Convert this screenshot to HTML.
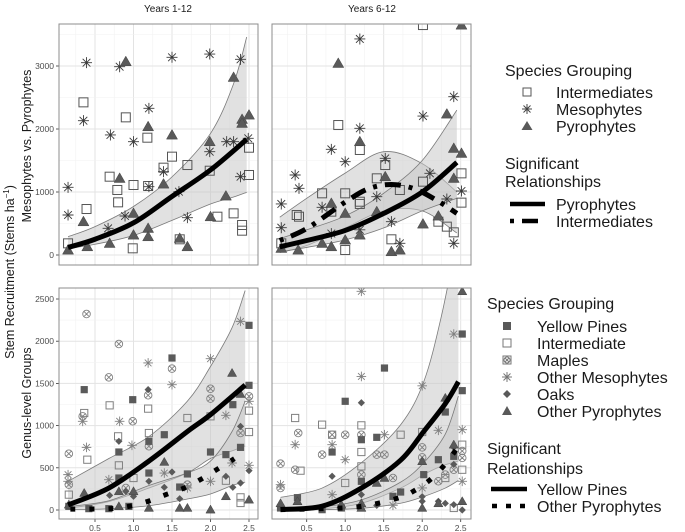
<!DOCTYPE html>
<html><head><meta charset="utf-8">
<style>
body{margin:0;background:#fff;font-family:"Liberation Sans",Arial,sans-serif;}
svg{display:block}
</style></head>
<body>
<svg id="chart" width="685" height="532" viewBox="0 0 685 532" xmlns="http://www.w3.org/2000/svg">
<defs>
<clipPath id="cTL"><rect x="59" y="24" width="199" height="241"/></clipPath>
<clipPath id="cTR"><rect x="272" y="24" width="199" height="241"/></clipPath>
<clipPath id="cBL"><rect x="59" y="288" width="199" height="231"/></clipPath>
<clipPath id="cBR"><rect x="272" y="288" width="199" height="231"/></clipPath>
</defs>
<g id="root"></g>
<text x="168" y="12" font-size="10" text-anchor="middle" fill="#1a1a1a">Years 1-12</text>
<text x="372" y="12" font-size="10" text-anchor="middle" fill="#1a1a1a">Years 6-12</text>
<text transform="translate(14,272) rotate(-90)" font-size="12.5" text-anchor="middle" fill="#1a1a1a">Stem Recruitment (Stems  ha<tspan font-size="8" dy="-5">−1</tspan><tspan dy="5">)</tspan></text>
<text transform="translate(31,146) rotate(-90)" font-size="12.5" text-anchor="middle" fill="#1a1a1a">Mesophytes vs. Pyrophytes</text>
<text transform="translate(31,403) rotate(-90)" font-size="12.5" text-anchor="middle" fill="#1a1a1a">Genus-level Groups</text>
<g id="legend-top" font-size="16" fill="#1a1a1a">
<text x="505" y="76">Species Grouping</text>
<rect x="523" y="88" width="8" height="8" fill="none" stroke="#555"/>
<text x="556" y="98">Intermediates</text>
<g stroke="#444" stroke-width="1"><line x1="522" y1="109" x2="532" y2="109"/><line x1="527" y1="104" x2="527" y2="114"/><line x1="523.5" y1="105.5" x2="530.5" y2="112.5"/><line x1="523.5" y1="112.5" x2="530.5" y2="105.5"/></g>
<text x="556" y="115">Mesophytes</text>
<polygon points="527,121 532.5,130 521.5,130" fill="#595959"/>
<text x="556" y="132">Pyrophytes</text>
<text x="505" y="169">Significant</text>
<text x="505" y="187">Relationships</text>
<line x1="510" y1="204" x2="545" y2="204" stroke="#000" stroke-width="4.5"/>
<text x="556" y="210">Pyrophytes</text>
<line x1="510" y1="221" x2="545" y2="221" stroke="#000" stroke-width="4.5" stroke-dasharray="4 8 16 8"/>
<text x="556" y="227">Intermediates</text>
</g>
<g id="legend-bottom" font-size="16" fill="#1a1a1a">
<text x="487" y="309">Species Grouping</text>
<rect x="503" y="322" width="8" height="8" fill="#595959"/>
<text x="537" y="332">Yellow Pines</text>
<rect x="503" y="339" width="8" height="8" fill="none" stroke="#777"/>
<text x="537" y="349">Intermediate</text>
<g stroke="#777" fill="none"><rect x="503" y="356" width="8" height="8"/><circle cx="507" cy="360" r="3"/><line x1="505" y1="358" x2="509" y2="362"/><line x1="505" y1="362" x2="509" y2="358"/></g>
<text x="537" y="366">Maples</text>
<g stroke="#777"><line x1="502" y1="377" x2="512" y2="377"/><line x1="507" y1="372" x2="507" y2="382"/><line x1="503.5" y1="373.5" x2="510.5" y2="380.5"/><line x1="503.5" y1="380.5" x2="510.5" y2="373.5"/></g>
<text x="537" y="383">Other Mesophytes</text>
<polygon points="507,390 511,394 507,398 503,394" fill="#595959"/>
<text x="537" y="400">Oaks</text>
<polygon points="507,406 512,415 502,415" fill="#595959"/>
<text x="537" y="417">Other Pyrophytes</text>
<text x="487" y="454">Significant</text>
<text x="487" y="474">Relationships</text>
<line x1="491" y1="489" x2="527" y2="489" stroke="#000" stroke-width="4.5"/>
<text x="537" y="495">Yellow Pines</text>
<line x1="492" y1="506" x2="527" y2="506" stroke="#000" stroke-width="4.5" stroke-dasharray="5 9"/>
<text x="537" y="512">Other Pyrophytes</text>
</g>
</svg>
<script>
// ---------- DATA ----------
const tlMesoX=[0.15,0.15,0.39,0.35,0.82,0.70,1.0,1.2,1.2,0.89,0.67,1.39,1.5,1.59,1.70,1.99,1.99,2.21,2.30,2.39,2.39,2.49];
const tlMesoY=[1074,635,3053,2132,2989,1905,1799,2328,1085,619,423,1323,3138,1005,593,3190,1640,1799,1799,3106,1243,1852];
const tlInterX=[0.15,0.35,0.39,0.69,0.79,0.80,0.90,1.0,0.99,1.18,1.19,1.39,1.50,1.60,1.70,1.99,2.09,2.30,2.41,2.41,2.50,2.50];
const tlInterY=[185,2423,730,1243,1032,836,2185,1111,106,1862,1095,1386,1561,249,1428,1338,608,661,476,386,1270,1703];
const tlPyroX=[0.15,0.35,0.40,0.69,0.82,0.90,1.0,1.0,1.19,1.19,1.19,1.39,1.50,1.60,1.70,1.99,2.0,2.20,2.30,2.41,2.41,2.50];
const tlPyroY=[79,529,132,185,1217,3069,661,317,2037,423,291,1127,1905,265,132,1799,608,937,2820,2153,2090,2222];
const tlFitX=[0.15,0.5,1.0,1.5,2.0,2.47];
const tlFitY=[120,250,510,930,1350,1836];
const tlBandX=[0.15,0.5,1.0,1.5,2.0,2.3,2.47];
const tlBandHi=[290,450,770,1240,1930,2720,3460];
const tlBandLo=[100,170,310,550,810,920,995];
const trMesoX=[0.17,0.17,0.35,0.40,0.82,1.0,1.19,1.19,0.70,1.41,1.52,1.60,1.71,2.01,2.10,2.32,2.41,2.41,2.51,0.82,1.19];
const trMesoY=[810,433,1270,1058,1677,1481,3429,2011,757,926,1534,529,185,2206,1296,889,2513,185,1016,340,400];
const trInterX=[0.17,0.37,0.40,0.70,0.82,0.91,1.0,1.0,1.19,1.19,1.19,1.41,1.52,1.60,1.71,2.01,2.01,2.21,2.32,2.41,2.51,2.51];
const trInterY=[185,635,608,979,688,2063,979,79,1667,846,810,1217,1428,249,1032,3650,1164,529,450,360,1296,831];
const trPyroX=[0.17,0.39,0.70,0.82,0.82,0.91,1.0,1.0,1.19,1.19,1.41,1.52,1.60,1.71,2.01,2.21,2.32,2.41,2.41,2.51,2.51];
const trPyroY=[106,79,185,820,132,3042,661,238,1799,317,688,1243,53,79,492,619,2238,1693,1217,3650,1614];
const trFitX=[0.15,0.5,1.0,1.5,2.0,2.45];
const trFitY=[130,230,390,660,1000,1470];
const trBandX=[0.15,0.5,1.0,1.5,2.0,2.45];
const trBandHi=[260,400,620,980,1500,2300];
const trBandLo=[50,120,240,430,700,900];
const trDashX=[0.15,0.5,1.0,1.3,1.6,1.9,2.2,2.45];
const trDashY=[230,420,840,1050,1120,1050,860,660];
const trDashBandX=[0.15,0.5,1.0,1.5,2.0,2.45];
const trDashBandHi=[600,900,1300,1640,1450,1000];
const trDashBandLo=[40,150,430,700,700,350];
const blPineX=[0.36,0.99,1.50,0.81,1.20,1.40,1.20,1.70,1.60,2.0,2.20,2.29,2.39,2.50,2.50,0.16,0.42,0.68,0.94,0.81];
const blPineY=[1426,1307,1801,687,814,892,438,427,272,687,656,1248,742,1477,2188,43,16,16,43,379];
const blInterX=[0.36,0.69,1.19,0.80,0.40,0.81,1.70,2.0,2.50,2.50,1.20,2.2,2.39,2.39,0.16,1.0];
const blInterY=[1149,1240,1201,873,596,529,1090,1110,1177,924,912,347,150,83,182,379];
const blMapleX=[0.39,0.81,0.68,1.19,1.50,0.34,0.99,0.16,2.0,2.0,2.5,2.39,1.2,0.90,0.16,1.70];
const blMapleY=[2322,1967,1572,1359,1675,1110,1051,667,1437,1319,1347,912,755,261,300,300];
const blMesoX=[1.19,1.50,2.0,2.39,0.34,0.82,0.39,0.98,2.2,2.5,2.5,0.15,0.15,0.68,1.40,2.0,2.28,1.7];
const blMesoY=[1742,1485,1793,2235,1051,1051,742,766,1122,1288,529,419,340,359,438,340,557,261];
const blOakX=[1.19,0.81,2.39,2.5,2.39,2.29,1.4,1.5,0.69,1.6,2.2,1.2,0.90,1.0];
const blOakY=[1426,814,991,466,320,269,269,450,174,134,399,340,221,162];
const blPyroX=[0.36,0.81,1.0,1.4,2.28,2.2,2.0,2.5,1.2,1.7,1.6,0.81,0.16,2.39];
const blPyroY=[201,221,221,569,1623,162,4,122,24,24,24,43,63,1374];
const blFitX=[0.15,0.68,1.2,1.7,2.0,2.45];
const blFitY=[60,260,580,930,1130,1480];
const blBandX=[0.15,0.68,1.2,1.7,2.0,2.28,2.45];
const blBandHi=[340,610,870,1290,1700,2160,2600];
const blBandLo=[20,100,260,440,610,700,760];
const blDotX=[0.18,0.69,0.94,1.19,1.42,1.66,1.89,2.1,2.31];
const blDotY=[10,16,43,103,182,261,371,490,608];
const blDotBandX=[0.15,0.68,1.2,1.7,2.0,2.28,2.45];
const blDotBandHi=[40,110,290,440,580,930,1290];
const blDotBandLo=[5,15,50,130,190,290,330];
const brPineX=[1.51,1.0,1.21,0.83,1.41,2.30,2.52,2.52,2.21,2.41,2.02,1.72,1.62,1.21,0.38,0.70,0.16,0.95];
const brPineY=[1682,1288,833,687,861,1161,1414,2085,596,636,419,213,162,340,146,4,24,24];
const brInterX=[0.35,0.70,1.21,1.21,1.21,1.72,2.0,2.52,2.52,0.42,1.0,2.30,2.41,0.83];
const brInterY=[1090,1011,1003,687,517,892,924,774,477,466,320,379,24,892];
const brMapleX=[0.39,0.83,1.0,1.21,0.16,0.35,0.70,1.41,1.51,2.0,2.0,2.52,2.52,2.41,2.30,1.62,1.21,0.16,2.21];
const brMapleY=[912,892,892,892,549,477,656,656,656,742,624,699,618,477,419,379,419,261,340];
const brMesoX=[1.21,1.21,2.0,2.41,0.35,0.83,1.0,1.51,2.21,2.52,2.52,0.16,2.0,0.83,1.62];
const brMesoY=[2591,1582,1472,2085,774,774,596,892,944,952,340,300,261,182,55];
const brOakX=[1.21,0.83,2.41,2.41,1.21,1.41,2.21,2.30,2.41,2.52,2.0,2.0];
const brOakY=[1271,400,742,541,182,55,103,79,63,0,103,158];
const brPyroX=[2.52,2.30,2.41,2.0,1.41,1.51,1.21,1.21,2.0,2.21,2.52,0.38,0.16,0.95];
const brPyroY=[2591,1328,774,577,320,379,79,24,24,79,103,103,79,63];
const brFitX=[0.16,0.7,1.21,1.72,2.02,2.3,2.47];
const brFitY=[5,45,260,590,930,1260,1520];
const brBandX=[0.16,0.7,1.21,1.72,2.02,2.25,2.47];
const brBandHi=[150,260,560,1010,1520,2300,3300];
const brBandLo=[0,15,80,260,420,520,580];
const brDotX=[0.16,0.7,1.21,1.69,1.92,2.13,2.3,2.45];
const brDotY=[4,16,43,142,241,379,545,727];
const brDotBandX=[0.16,0.7,1.21,1.72,2.02,2.3,2.47];
const brDotBandHi=[20,40,120,330,560,900,1350];
const brDotBandLo=[0,5,20,80,160,260,350];
const xTicks=[0.5,1.0,1.5,2.0,2.5];
const xTickLabels=["0.5","1.0","1.5","2.0","2.5"];
const topYTicks=[0,1000,2000,3000];
const botYTicks=[0,500,1000,1500,2000,2500];

// ---------- RENDER ----------
const NS="http://www.w3.org/2000/svg";
const root=document.getElementById('root');
function mk(tag,attrs,parent){const e=document.createElementNS(NS,tag);for(const k in attrs)e.setAttribute(k,attrs[k]);(parent||root).appendChild(e);return e;}
function panel(id,x0,y0,w,h,xOff,yZero,yScale,yTicks,minorStep,showY,showX){
  const P={id,x0,y0,w,h,sx:v=>xOff+v*77,sy:v=>yZero-v*yScale};
  const g=mk('g',{});
  
  
  const bg=mk('rect',{x:x0,y:y0,width:w,height:h,fill:'#fff'},g);
  
  
  const grid=mk('g',{},g);
  
  
  for(let v=0.25;v<2.7;v+=0.5){const X=P.sx(v);if(X>x0&&X<x0+w)mk('line',{x1:X,x2:X,y1:y0,y2:y0+h,stroke:'#f2f2f2','stroke-width':0.6},grid);}
  xTicks.forEach(v=>{const X=P.sx(v);mk('line',{x1:X,x2:X,y1:y0,y2:y0+h,stroke:'#e3e3e3','stroke-width':1},grid);});
  for(let i=0;i<yTicks.length;i++){const v=yTicks[i]+minorStep;const Y=P.sy(v);if(Y>y0&&Y<y0+h)mk('line',{x1:x0,x2:x0+w,y1:Y,y2:Y,stroke:'#f2f2f2','stroke-width':0.6},grid);}
  yTicks.forEach(v=>{const Y=P.sy(v);mk('line',{x1:x0,x2:x0+w,y1:Y,y2:Y,stroke:'#e3e3e3','stroke-width':1},grid);});
  P.g=mk('g',{'clip-path':'url(#c'+id+')'},g);
  P.frame=g;
  if(showY){yTicks.forEach(v=>{const Y=P.sy(v);mk('line',{x1:x0-3,x2:x0,y1:Y,y2:Y,stroke:'#333','stroke-width':0.8},g);
    const t=mk('text',{x:x0-5,y:Y+3,'font-size':8.5,'text-anchor':'end',fill:'#4d4d4d'},g);t.textContent=v;
    
    });}
  if(showX){xTicks.forEach((v,i)=>{const X=P.sx(v);mk('line',{x1:X,x2:X,y1:y0+h,y2:y0+h+3,stroke:'#333','stroke-width':0.8},g);
    const t=mk('text',{x:X,y:y0+h+12,'font-size':8.5,'text-anchor':'middle',fill:'#4d4d4d'},g);t.textContent=xTickLabels[i];
    
    });}
  return P;
}
function finish(P){const b=mk('rect',{x:P.x0,y:P.y0,width:P.w,height:P.h,fill:'none',stroke:'#8c8c8c','stroke-width':1},P.frame);
  
  }
function pts(P,xs,ys){return xs.map((x,i)=>[P.sx(x),P.sy(ys[i])]);}
function smooth(p,move){let d=(move?'M':'L')+p[0][0]+','+p[0][1];
  for(let i=0;i<p.length-1;i++){const a=p[i-1]||p[i],b=p[i],c=p[i+1],e=p[i+2]||c;
    d+=' C'+(b[0]+(c[0]-a[0])/6)+','+(b[1]+(c[1]-a[1])/6)+' '+(c[0]-(e[0]-b[0])/6)+','+(c[1]-(e[1]-b[1])/6)+' '+c[0]+','+c[1];}
  return d;}
function band(P,xs,hi,lo,name){const up=pts(P,xs,hi),dn=pts(P,xs,lo).reverse();
  const a=mk('path',{d:smooth(up,true)+' '+smooth(dn,false)+' Z',fill:'#c8c8c8','fill-opacity':0.55,stroke:'none'},P.g);
  
  
  const l1=mk('path',{d:smooth(up,true),fill:'none',stroke:'#7a7a7a','stroke-width':0.8},P.g);
  
  
  const l2=mk('path',{d:smooth(pts(P,xs,lo),true),fill:'none',stroke:'#7a7a7a','stroke-width':0.8},P.g);
  
  }
function fit(P,xs,ys,dash,name){const l=mk('path',{d:smooth(pts(P,xs,ys),true),fill:'none',stroke:'#000','stroke-width':5,'stroke-dasharray':dash||'none'},P.g);
  
  }
function marker(P,kind,x,y,big,name){const X=P.sx(x),Y=P.sy(y);const s=big?4.5:3.6;let e;
  if(kind==='sq'){e=mk('rect',{x:X-s,y:Y-s,width:2*s,height:2*s,fill:'none',stroke:big?'#555':'#808080','stroke-width':1},P.g);}
  else if(kind==='sqf'){e=mk('rect',{x:X-s,y:Y-s,width:2*s,height:2*s,fill:'#5a5a5a'},P.g);}
  else if(kind==='tri'){const r=big?5.5:4.6;e=mk('polygon',{points:X+','+(Y-r)+' '+(X+r)+','+(Y+r*0.75)+' '+(X-r)+','+(Y+r*0.75),fill:'#5a5a5a',stroke:'#444','stroke-width':0.5},P.g);}
  else if(kind==='dia'){const r=3.6;e=mk('polygon',{points:X+','+(Y-r)+' '+(X+r)+','+Y+' '+X+','+(Y+r)+' '+(X-r)+','+Y,fill:'#5a5a5a'},P.g);}
  else if(kind==='star'){const r=big?5.5:4.8,q=r*0.7;e=mk('path',{d:`M${X-r},${Y}L${X+r},${Y}M${X},${Y-r}L${X},${Y+r}M${X-q},${Y-q}L${X+q},${Y+q}M${X-q},${Y+q}L${X+q},${Y-q}`,stroke:big?'#3a3a3a':'#808080','stroke-width':0.9,fill:'none'},P.g);}
  else if(kind==='cx'){const r=3.8,q=r*0.7;e=mk('path',{d:`M${X-r},${Y}a${r},${r} 0 1,0 ${2*r},0a${r},${r} 0 1,0 ${-2*r},0M${X-q},${Y-q}L${X+q},${Y+q}M${X-q},${Y+q}L${X+q},${Y-q}`,stroke:'#808080','stroke-width':0.9,fill:'none'},P.g);}
  
  }
function series(P,kind,xs,ys,big,name){xs.forEach((x,i)=>marker(P,kind,x,ys[i],big,name));}

const TL=panel('TL',59,24,199,241,56.5,255,0.063,topYTicks,500,true,false);
band(TL,tlBandX,tlBandHi,tlBandLo,'ci-band-pyrophytes');
series(TL,'sq',tlInterX,tlInterY,true,'point-intermediates');
series(TL,'star',tlMesoX,tlMesoY,true,'point-mesophytes');
series(TL,'tri',tlPyroX,tlPyroY,true,'point-pyrophytes');
fit(TL,tlFitX,tlFitY,null,'fit-line-pyrophytes');
finish(TL);
const TR=panel('TR',272,24,199,241,268.2,255,0.063,topYTicks,500,false,false);
band(TR,trDashBandX,trDashBandHi,trDashBandLo,'ci-band-intermediates');
band(TR,trBandX,trBandHi,trBandLo,'ci-band-pyrophytes');
series(TR,'sq',trInterX,trInterY,true,'point-intermediates');
series(TR,'star',trMesoX,trMesoY,true,'point-mesophytes');
series(TR,'tri',trPyroX,trPyroY,true,'point-pyrophytes');
fit(TR,trFitX,trFitY,null,'fit-line-pyrophytes');
fit(TR,trDashX,trDashY,'4 8 16 8','fit-line-intermediates');
finish(TR);
const BL=panel('BL',59,288,199,231,56.5,510,0.0844,botYTicks,250,true,true);
band(BL,blBandX,blBandHi,blBandLo,'ci-band-yellow-pines');
band(BL,blDotBandX,blDotBandHi,blDotBandLo,'ci-band-other-pyrophytes');
series(BL,'sq',blInterX,blInterY,false,'point-intermediate');
series(BL,'cx',blMapleX,blMapleY,false,'point-maples');
series(BL,'star',blMesoX,blMesoY,false,'point-other-mesophytes');
series(BL,'sqf',blPineX,blPineY,false,'point-yellow-pines');
series(BL,'dia',blOakX,blOakY,false,'point-oaks');
series(BL,'tri',blPyroX,blPyroY,false,'point-other-pyrophytes');
fit(BL,blFitX,blFitY,null,'fit-line-yellow-pines');
fit(BL,blDotX,blDotY,'5 14','fit-line-other-pyrophytes');
finish(BL);
const BR=panel('BR',272,288,199,231,268.2,510,0.0844,botYTicks,250,false,true);
band(BR,brBandX,brBandHi,brBandLo,'ci-band-yellow-pines');
band(BR,brDotBandX,brDotBandHi,brDotBandLo,'ci-band-other-pyrophytes');
series(BR,'sq',brInterX,brInterY,false,'point-intermediate');
series(BR,'cx',brMapleX,brMapleY,false,'point-maples');
series(BR,'star',brMesoX,brMesoY,false,'point-other-mesophytes');
series(BR,'sqf',brPineX,brPineY,false,'point-yellow-pines');
series(BR,'dia',brOakX,brOakY,false,'point-oaks');
series(BR,'tri',brPyroX,brPyroY,false,'point-other-pyrophytes');
fit(BR,brFitX,brFitY,null,'fit-line-yellow-pines');
fit(BR,brDotX,brDotY,'5 14','fit-line-other-pyrophytes');
finish(BR);
</script>
</body></html>
